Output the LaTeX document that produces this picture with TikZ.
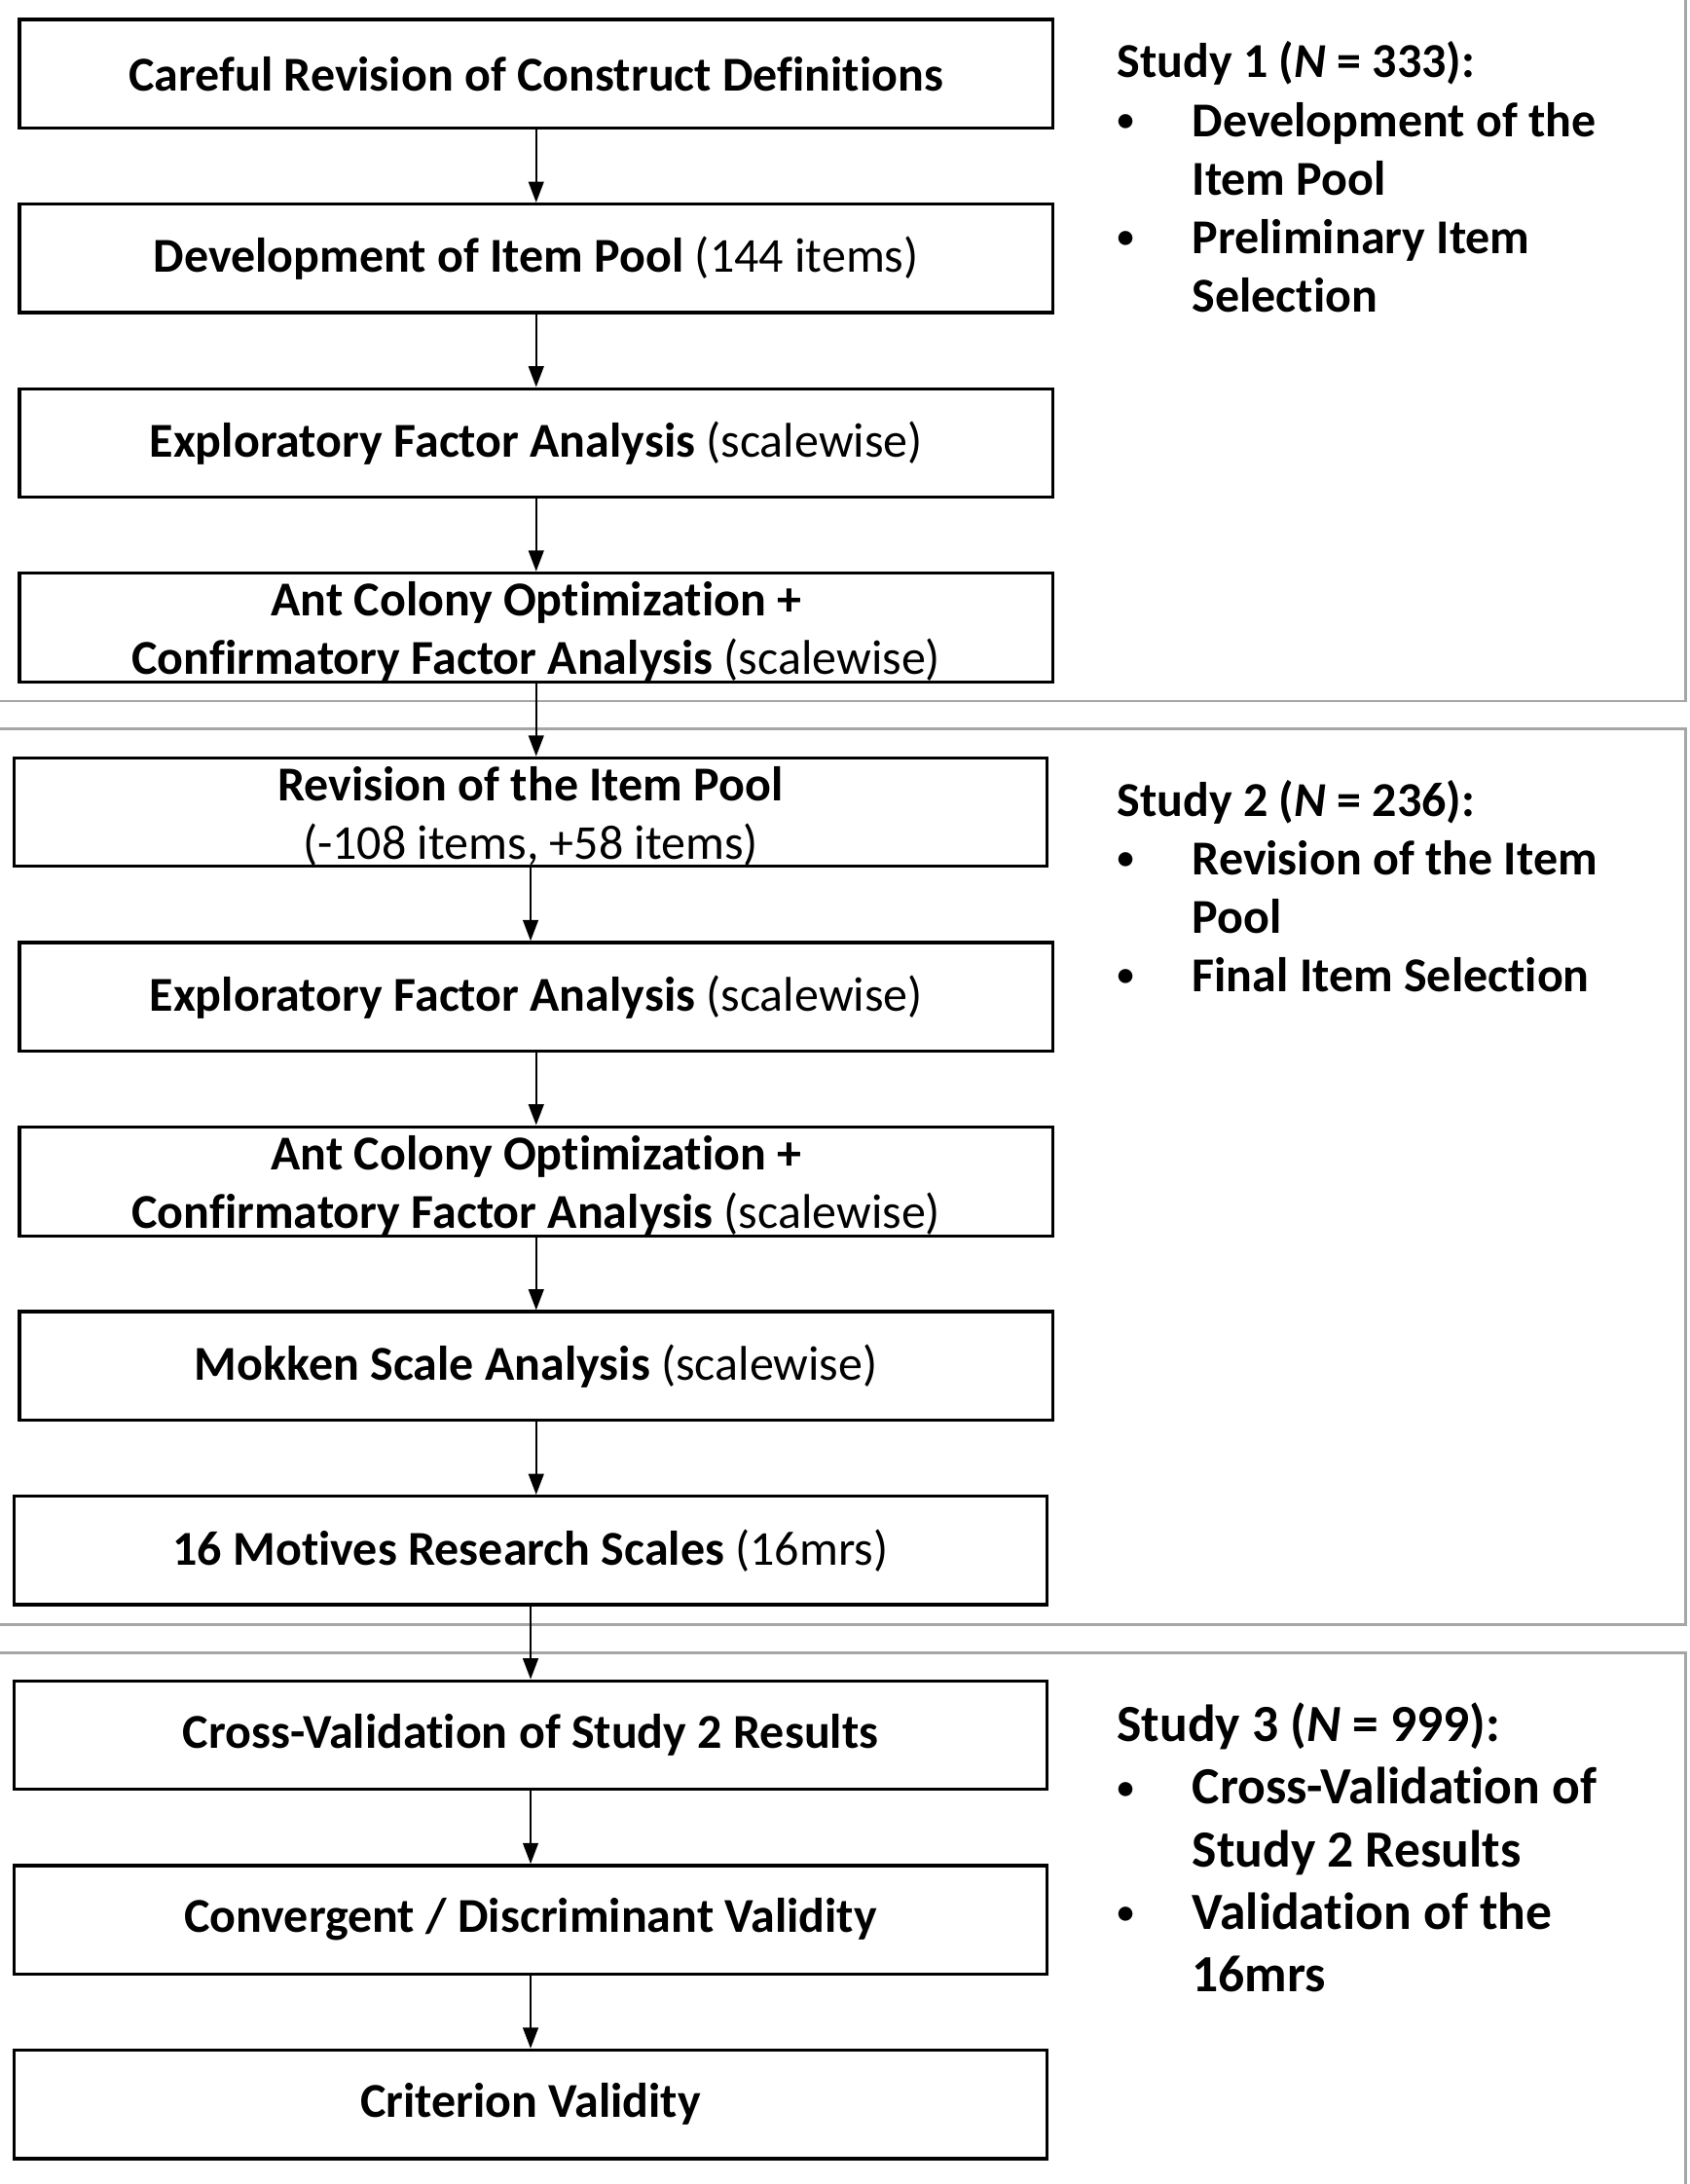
\documentclass[tikz,border=0pt]{standalone}
\usepackage{fontspec}
\setmainfont{Carlito}[Ligatures=NoCommon]
\usetikzlibrary{arrows.meta}
\definecolor{panelgray}{HTML}{A6A6A6}
\newcommand{\smallbullet}{\raisebox{4pt}{\fontsize{24}{24}\selectfont\textbullet}}
\newcommand{\firstline}{\rule{0pt}{31pt}}

\begin{document}
\begin{tikzpicture}[x=1pt, y=1pt, >={Triangle[length=15pt, width=11pt]}, node distance=132.7pt]
    \tikzset{box/.style = {shape=rectangle, draw, line width=2.3pt, minimum width=743pt, minimum height=78pt, inner sep=0pt, align=center, font=\fontsize{35}{42}\selectfont}}
    \tikzset{panel/.style = {draw=panelgray, line width=2pt}}
    \tikzset{study/.style = {anchor=base west, inner sep=0pt, font=\fontsize{35}{42}\selectfont\bfseries}}

    \useasboundingbox (0,0) rectangle (1215,-1570);
    \clip (0,0) rectangle (1215,-1570);

    % one frame per study
    \draw[panel] (-10,10) rectangle (1212,-504);
    \draw[panel] (-10,-524) rectangle (1212,-1168);
    \draw[panel] (-10,-1188) rectangle (1212,-1590);

    \node[box] (careful) at (385.5,-53) {\textbf{Careful Revision of Construct Definitions}};
    \node[box, below of=careful] (pool) {\textbf{Development of Item Pool} (144 items)};
    \node[box, below of=pool] (efa1) {\textbf{Exploratory Factor Analysis} (scalewise)};
    \node[box, below of=efa1] (aco1) {\firstline\textbf{Ant Colony Optimization +}\\\textbf{Confirmatory Factor Analysis} (scalewise)};

    \node[box, below of=aco1, xshift=-4pt] (revision) {\firstline\textbf{Revision of the Item Pool}\\(-108 items, +58 items)};
    \node[box, below of=revision, xshift=4pt] (efa2) {\textbf{Exploratory Factor Analysis} (scalewise)};
    \node[box, below of=efa2] (aco2) {\firstline\textbf{Ant Colony Optimization +}\\\textbf{Confirmatory Factor Analysis} (scalewise)};
    \node[box, below of=aco2] (mokken) {\textbf{Mokken Scale Analysis} (scalewise)};
    \node[box, below of=mokken, xshift=-4pt] (scales) {\textbf{16 Motives Research Scales} (16mrs)};

    \node[box, below of=scales] (crossval) {\textbf{Cross-Validation of Study 2 Results}};
    \node[box, below of=crossval] (convergent) {\textbf{Convergent / Discriminant Validity}};
    \node[box, below of=convergent] (criterion) {\textbf{Criterion Validity}};

    \draw[->, line width=1.5pt] (careful) -- (careful |- pool.north);
    \draw[->, line width=1.5pt] (pool) -- (pool |- efa1.north);
    \draw[->, line width=1.5pt] (efa1) -- (efa1 |- aco1.north);
    \draw[->, line width=1.5pt] (aco1) -- (aco1 |- revision.north);
    \draw[->, line width=1.5pt] (revision) -- (revision |- efa2.north);
    \draw[->, line width=1.5pt] (efa2) -- (efa2 |- aco2.north);
    \draw[->, line width=1.5pt] (aco2) -- (aco2 |- mokken.north);
    \draw[->, line width=1.5pt] (mokken) -- (mokken |- scales.north);
    \draw[->, line width=1.5pt] (scales) -- (scales |- crossval.north);
    \draw[->, line width=1.5pt] (crossval) -- (crossval |- convergent.north);
    \draw[->, line width=1.5pt] (convergent) -- (convergent |- criterion.north);

    \node[study] (study1) at (803,-56) {\begin{tabular}[t]{@{}p{54pt}@{}l@{}}
        \multicolumn{2}{@{}l@{}}{Study 1 (\textit{N} = 333):}\\
        \smallbullet & Development of the\\
                     & Item Pool\\
        \smallbullet & Preliminary Item\\
                     & Selection
    \end{tabular}};
    \node[study] (study2) at (803,-587) {\begin{tabular}[t]{@{}p{54pt}@{}l@{}}
        \multicolumn{2}{@{}l@{}}{Study 2 (\textit{N} = 236):}\\
        \smallbullet & Revision of the Item\\
                     & Pool\\
        \smallbullet & Final Item Selection
    \end{tabular}};
    \node[study, font=\fontsize{37.5}{45}\selectfont\bfseries] (study3) at (803,-1252) {\begin{tabular}[t]{@{}p{54pt}@{}l@{}}
        \multicolumn{2}{@{}l@{}}{Study 3 (\textit{N} = 999):}\\
        \smallbullet & Cross-Validation of\\
                     & Study 2 Results\\
        \smallbullet & Validation of the\\
                     & 16mrs
    \end{tabular}};
\end{tikzpicture}
\end{document}
